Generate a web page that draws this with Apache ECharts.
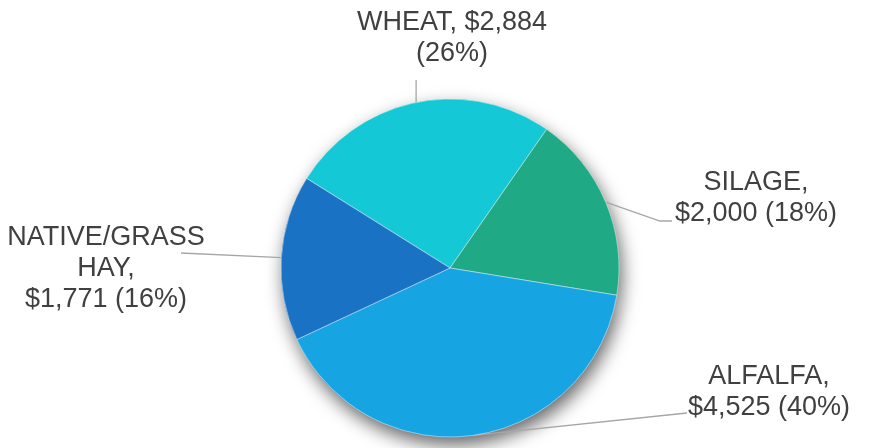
<!DOCTYPE html>
<html>
<head>
<meta charset="utf-8">
<script src="https://cdn.jsdelivr.net/npm/echarts@6/dist/echarts.min.js"></script>
<style>
    html, body { margin: 0; padding: 0; background: #fff; }
    #chart { width: 871px; height: 448px; }
</style>
</head>
<body>
<div id="chart"></div>
<script>
// crop values in dollars, clockwise from the top-left
const categories = ['WHEAT', 'SILAGE', 'ALFALFA', 'NATIVE/GRASS\nHAY']
const values = [2884, 2000, 4525, 1771]
const percents = ['26%', '18%', '40%', '16%']
const labelTexts = [
    'WHEAT, $2,884\n(26%)',
    'SILAGE,\n$2,000 (18%)',
    'ALFALFA,\n$4,525 (40%)',
    'NATIVE/GRASS\nHAY,\n$1,771 (16%)'
]
const colors = ['#15c8d5', '#1fa984', '#16a4e3', '#1a72c4']

// where each label block sits (centre of the text block)
const labelSpots = [
    [452, 38],
    [756, 198],
    [769, 392],
    [106, 269]
]
// extra leader-line points after the anchor on the pie edge (null x = keep anchor x)
const leaderPoints = [
    [[null, 80]],
    [[660, 221], [672, 221]],
    [[687, 413]],
    [[181, 253]]
]

const chart = echarts.init(document.getElementById('chart'))

const seriesData = values.map((v, i) => ({
    name: categories[i],
    value: v,
    itemStyle: { color: colors[i] }
}))

const option = {
    animation: false,
    series: [
        {
            // shadow layer underneath
            type: 'pie',
            silent: true,
            center: [450, 268],
            radius: 169,
            startAngle: 148,
            z: 1,
            label: { show: false },
            labelLine: { show: false },
            itemStyle: {
                shadowBlur: 18,
                shadowOffsetX: 3,
                shadowOffsetY: 8,
                shadowColor: 'rgba(0, 0, 0, 0.6)'
            },
            data: seriesData
        },
        {
            type: 'pie',
            center: [450, 268],
            radius: 169,
            startAngle: 148,
            z: 2,
            itemStyle: {
                borderColor: 'rgba(255, 255, 255, 0.45)',
                borderWidth: 1
            },
            label: {
                show: true,
                color: '#404040',
                fontFamily: 'Liberation Sans, Arial, sans-serif',
                fontSize: 27,
                lineHeight: 31,
                align: 'center',
                formatter: (p) => labelTexts[p.dataIndex]
            },
            labelLine: {
                show: true,
                length: 14,
                length2: 10,
                lineStyle: { color: '#a6a6a6', width: 1.3 }
            },
            labelLayout: (params) => {
                const i = params.dataIndex
                const anchor = params.labelLinePoints[0]
                const pts = [anchor].concat(leaderPoints[i].map(p => [p[0] == null ? anchor[0] : p[0], p[1]]))
                return {
                    x: labelSpots[i][0],
                    y: labelSpots[i][1],
                    align: 'center',
                    verticalAlign: 'middle',
                    labelLinePoints: pts
                }
            },
            data: seriesData
        }
    ]
}

chart.setOption(option)
</script>
</body>
</html>
